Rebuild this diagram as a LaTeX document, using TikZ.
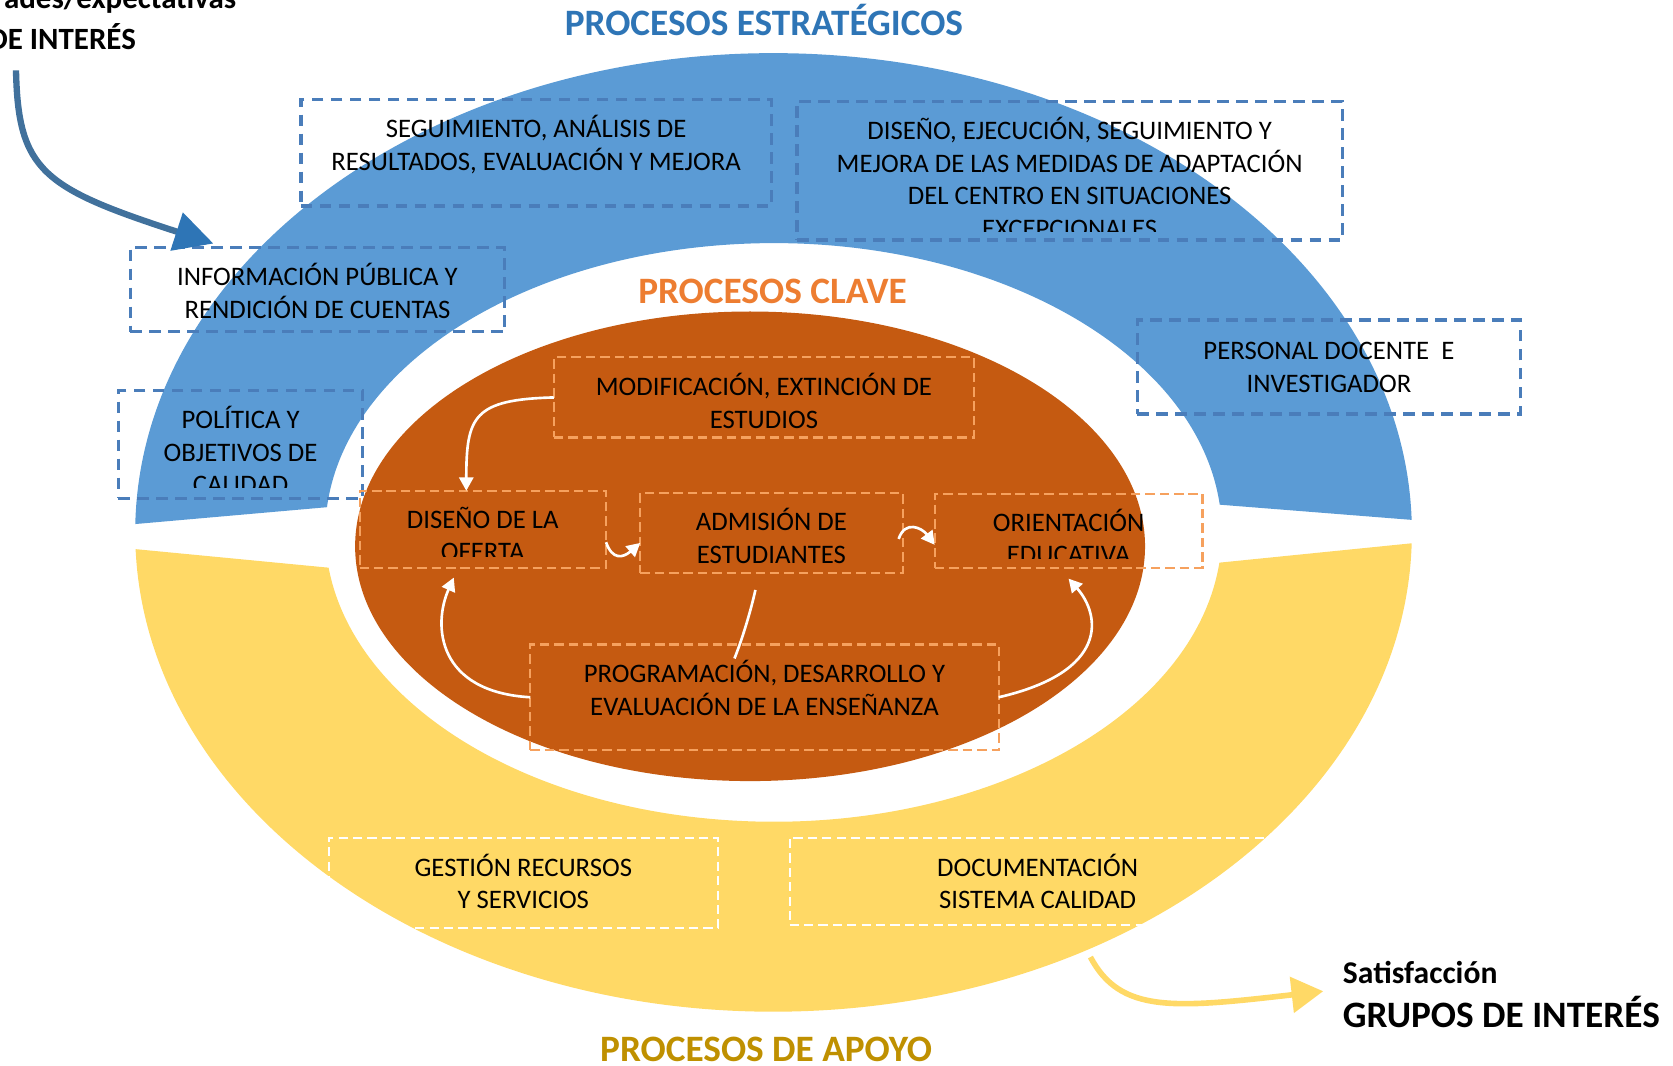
\documentclass[tikz,border=0pt]{standalone}
\usepackage{fontspec}
\setmainfont{Carlito}
\usetikzlibrary{positioning,fit,arrows.meta}
\definecolor{azulAnillo}{HTML}{5B9BD5}
\definecolor{amarilloAnillo}{HTML}{FFD966}
\definecolor{naranjaNucleo}{HTML}{C55A11}
\definecolor{azulTrazo}{HTML}{4A7DBA}
\definecolor{naranjaTrazo}{HTML}{F6A15E}
\definecolor{azulTitulo}{HTML}{2E75B6}
\definecolor{naranjaTitulo}{HTML}{ED7D31}
\definecolor{oroTitulo}{HTML}{BF9000}
\definecolor{azulFlecha}{HTML}{41719C}
\begin{document}
\begin{tikzpicture}[x=0.01067cm,y=-0.01067cm,
    cajaAzul/.style ={draw=azulTrazo, line width=0.95pt, dash pattern=on 3.3pt off 2.1pt, inner sep=0pt, outer sep=0pt},
    cajaNaranja/.style ={draw=naranjaTrazo, line width=0.6pt, dash pattern=on 2.7pt off 1.4pt, inner sep=0pt, outer sep=0pt},
    cajaBlanca/.style ={draw=white, line width=0.6pt, dash pattern=on 2.6pt off 1.5pt, inner sep=0pt, outer sep=0pt},
    texto/.style ={inner sep=0pt, align=center, font=\fontsize{7.6}{9.3}\selectfont, execute at begin node=\rule{0pt}{7pt}},
    titulo/.style ={inner sep=0pt, font=\fontsize{10.6}{12}\selectfont\bfseries},
    rotulo/.style ={inner sep=0pt, font=\fontsize{8.8}{10}\selectfont\bfseries},
    flecha/.style ={draw=white, line width=0.75pt, -{Triangle[length=3.8pt,width=4pt]}}]
   \useasboundingbox (0,0) rectangle (1568,999);
   \clip (0,0) rectangle (1568,999);
   \coordinate (ctr) at (725,499);
   \fill[azulAnillo] ([shift={(179:6.381cm and 4.791cm)}]ctr) arc[start angle=179, end angle=1.5, x radius=6.381cm, y radius=4.791cm]
      -- ([shift={(5.5:4.481cm and 2.892cm)}]ctr) arc[start angle=5.5, end angle=175, x radius=4.481cm, y radius=2.892cm] -- cycle;
   \fill[amarilloAnillo] ([shift={(182:6.381cm and 4.791cm)}]ctr) arc[start angle=182, end angle=358.7, x radius=6.381cm, y radius=4.791cm]
      -- ([shift={(354:4.481cm and 2.892cm)}]ctr) arc[start angle=354, end angle=187, x radius=4.481cm, y radius=2.892cm] -- cycle;
   \fill[naranjaNucleo] (703,512) ellipse[x radius=3.948cm, y radius=2.347cm];

   \node[cajaAzul, fit={(282,93) (723,193)}] (seg) {};
   \node[cajaAzul, fit={(747,95) (1258,225)}] (dis) {};
   \node[cajaAzul, fit={(122,232) (473,311)}] (inf) {};
   \node[cajaAzul, fit={(111,366) (340,467)}] (pol) {};
   \node[cajaAzul, fit={(1066,300) (1425,388)}] (per) {};
   \node[cajaNaranja, fit={(519,335) (913,410)}] (mod) {};
   \node[cajaNaranja, fit={(337,460) (568,532)}] (dof) {};
   \node[cajaNaranja, fit={(600,462) (846,537)}] (adm) {};
   \node[cajaNaranja, fit={(876,463) (1127,532)}] (ori) {};
   \node[cajaNaranja, fit={(497,604) (936,703)}] (pro) {};
   \node[cajaBlanca, fit={(308,785) (673,870)}] (ges) {};
   \node[cajaBlanca, fit={(740,785) (1205,867)}] (doc) {};

   \node[texto, below=0.152cm of seg.north] (segT) {SEGUIMIENTO, ANÁLISIS DE\\RESULTADOS, EVALUACIÓN Y MEJORA};
   \begin{scope}
     \clip (dis.north west) rectangle ([yshift=0.09cm]dis.south east);
     \node[texto, below=0.15cm of dis.north] (disT) {DISEÑO, EJECUCIÓN, SEGUIMIENTO Y\\MEJORA DE LAS MEDIDAS DE ADAPTACIÓN\\DEL CENTRO EN SITUACIONES\\EXCEPCIONALES};
   \end{scope}
   \node[texto, below=0.15cm of inf.north] (infT) {INFORMACIÓN PÚBLICA Y\\RENDICIÓN DE CUENTAS};
   \begin{scope}
     \clip (pol.north west) rectangle ([yshift=0.107cm]pol.south east);
     \node[texto, below=0.15cm of pol.north] (polT) {POLÍTICA Y\\OBJETIVOS DE\\CALIDAD};
   \end{scope}
   \node[texto, below=0.215cm of per.north] (perT) {PERSONAL DOCENTE\ \ E\\INVESTIGADOR};
   \node[texto, below=0.15cm of mod.north] (modT) {MODIFICACIÓN, EXTINCIÓN DE\\ESTUDIOS};
   \begin{scope}
     \clip (dof.north west) rectangle ([yshift=0.107cm]dof.south east);
     \node[texto, below=0.155cm of dof.north] (dofT) {DISEÑO DE LA\\OFERTA};
   \end{scope}
   \node[texto, below=0.15cm of adm.north] (admT) {ADMISIÓN DE\\ESTUDIANTES};
   \begin{scope}
     \clip (ori.north west) rectangle ([yshift=0.09cm]ori.south east);
     \node[texto, below=0.14cm of ori.north] (oriT) {ORIENTACIÓN\\EDUCATIVA};
   \end{scope}
   \node[texto, below=0.15cm of pro.north] (proT) {PROGRAMACIÓN, DESARROLLO Y\\EVALUACIÓN DE LA ENSEÑANZA};
   \node[texto, below=0.155cm of ges.north] (gesT) {GESTIÓN RECURSOS\\Y SERVICIOS};
   \node[texto, below=0.155cm of doc.north] (docT) {DOCUMENTACIÓN\\SISTEMA CALIDAD};

   \node[titulo, text=azulTitulo, anchor=base] (tEst) at (716,33) {PROCESOS ESTRATÉGICOS};
   \node[titulo, text=naranjaTitulo, anchor=base] (tCla) at (724,284) {PROCESOS CLAVE};
   \node[titulo, text=oroTitulo, anchor=base] (tApo) at (718,995) {PROCESOS DE APOYO};
   \node[rotulo, anchor=base east] (necT) at (222,8) {ades/expectativas};
   \node[rotulo, anchor=base east] (giT) at (128,46) {DE INTERÉS};
   \node[rotulo, font=\fontsize{9}{10}\selectfont\bfseries, anchor=base west] (sat) at (1258,922) {Satisfacción};
   \node[titulo, anchor=base west] (gru) at (1258,963) {GRUPOS DE INTERÉS};

   \draw[flecha] (mod.west) .. controls +(-75,2) and +(0,-70) .. ([xshift=-0.165cm]dof.north);
   \draw[flecha] ([yshift=-0.13cm]dof.east) .. controls +(6,17) and +(-16,14) .. ([yshift=-0.1cm]adm.west);
   \draw[flecha] ([shift={(-0.04cm,-0.06cm)}]adm.east) .. controls +(6,-18) and +(-12,-16) .. ([yshift=-0.14cm]ori.west);
   \draw[white, line width=0.75pt] ([shift={(-0.30cm,-0.14cm)}]pro.north) .. controls +(8,-20) and +(-4,18) .. ([shift={(-0.16cm,-0.17cm)}]adm.south);
   \draw[flecha] (pro.west) .. controls +(-87,-5) and +(-20,45) .. ([shift={(-0.29cm,-0.1cm)}]dof.south);
   \draw[flecha] (pro.east) .. controls +(104,-24) and +(30,34) .. ([yshift=-0.11cm]ori.south);

   \coordinate (necA) at (15,66);
   \coordinate (satA) at (1022,897);
   \draw[azulFlecha, line width=1.8pt, -{Triangle[length=11pt,width=11pt,color=azulTitulo]}] (necA) .. controls +(2,94) and +(-160,-52) .. ([shift={(-1.04cm,0.04cm)}]inf.north);
   \draw[amarilloAnillo, line width=1.6pt, -{Triangle[length=9pt,width=10pt]}] (satA) .. controls +(28,53) and +(-140,16) .. ([shift={(-0.19cm,-0.075cm)}]sat.base west);
 \end{tikzpicture}
\end{document}
